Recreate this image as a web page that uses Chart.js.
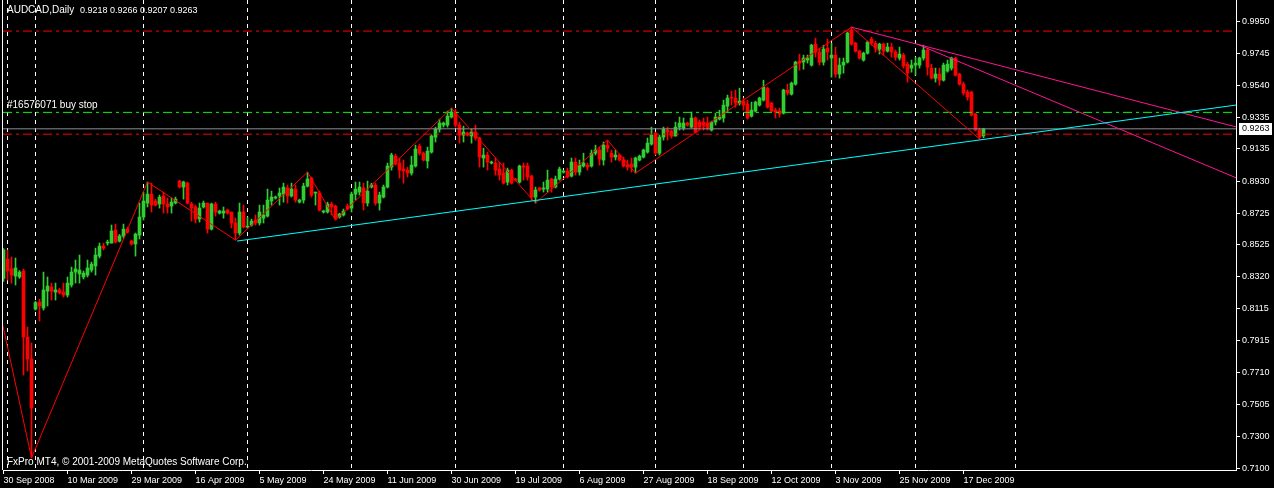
<!DOCTYPE html>
<html>
<head>
<meta charset="utf-8">
<title>AUDCAD,Daily</title>
<script src="https://cdn.jsdelivr.net/npm/chart.js@4.4.1/dist/chart.umd.min.js"></script>
<style>
  html, body { margin: 0; padding: 0; background: #000; }
  canvas { display: block; }
</style>
</head>
<body>
<canvas id="chart" width="1274" height="488"></canvas>
<script>
const OPEN = [
  0.8310, 0.8433, 0.8370, 0.8325, 0.8319, 0.8357, 0.7936, 0.7796, 0.8114, 0.8159,
  0.8121, 0.8229, 0.8255, 0.8223, 0.8236, 0.8223, 0.8204, 0.8268, 0.8350, 0.8338,
  0.8319, 0.8331, 0.8363, 0.8389, 0.8452, 0.8516, 0.8535, 0.8535, 0.8618, 0.8548,
  0.8580, 0.8624, 0.8548, 0.8529, 0.8586, 0.8701, 0.8790, 0.8847, 0.8803, 0.8784,
  0.8835, 0.8784, 0.8771, 0.8790, 0.8930, 0.8892, 0.8917, 0.8784, 0.8765, 0.8688,
  0.8765, 0.8790, 0.8624, 0.8784, 0.8726, 0.8726, 0.8745, 0.8733, 0.8663, 0.8599,
  0.8733, 0.8637, 0.8650, 0.8682, 0.8663, 0.8694, 0.8707, 0.8803, 0.8822, 0.8835,
  0.8847, 0.8886, 0.8835, 0.8879, 0.8796, 0.8809, 0.8898, 0.8949, 0.8854, 0.8854,
  0.8733, 0.8733, 0.8784, 0.8771, 0.8701, 0.8714, 0.8771, 0.8758, 0.8847, 0.8860,
  0.8886, 0.8790, 0.8892, 0.8905, 0.8790, 0.8828, 0.8892, 0.9019, 0.9089, 0.9045,
  0.9007, 0.9000, 0.8981, 0.9026, 0.9153, 0.9108, 0.9058, 0.9115, 0.9210, 0.9261,
  0.9287, 0.9287, 0.9338, 0.9370, 0.9287, 0.9223, 0.9236, 0.9217, 0.9242, 0.9204,
  0.9077, 0.9096, 0.9045, 0.9045, 0.9007, 0.8981, 0.8924, 0.9000, 0.8943, 0.8924,
  0.9026, 0.9026, 0.8962, 0.8828, 0.8886, 0.8879, 0.8879, 0.8943, 0.8892, 0.8943,
  0.8987, 0.8994, 0.8962, 0.9051, 0.8987, 0.9026, 0.9032, 0.9026, 0.9108, 0.9128,
  0.9064, 0.9159, 0.9108, 0.9083, 0.9096, 0.9064, 0.9032, 0.9039, 0.9019, 0.9064,
  0.9083, 0.9115, 0.9166, 0.9236, 0.9108, 0.9210, 0.9255, 0.9249, 0.9217, 0.9274,
  0.9268, 0.9300, 0.9274, 0.9332, 0.9306, 0.9306, 0.9300, 0.9255, 0.9306, 0.9325,
  0.9332, 0.9408, 0.9465, 0.9459, 0.9427, 0.9440, 0.9421, 0.9344, 0.9376, 0.9414,
  0.9446, 0.9522, 0.9427, 0.9382, 0.9376, 0.9363, 0.9510, 0.9484, 0.9548, 0.9694,
  0.9688, 0.9701, 0.9669, 0.9803, 0.9752, 0.9688, 0.9777, 0.9714, 0.9733, 0.9612,
  0.9669, 0.9688, 0.9892, 0.9809, 0.9758, 0.9701, 0.9745, 0.9835, 0.9809, 0.9771,
  0.9803, 0.9758, 0.9784, 0.9752, 0.9714, 0.9733, 0.9675, 0.9650, 0.9669, 0.9669,
  0.9714, 0.9765, 0.9650, 0.9586, 0.9612, 0.9573, 0.9631, 0.9650, 0.9714, 0.9612,
  0.9548, 0.9497, 0.9497, 0.9357, 0.9255, 0.9218
];
const HIGH = [
  0.8500, 0.8491, 0.8446, 0.8440, 0.8360, 0.8370, 0.8000, 0.7898, 0.8165, 0.8178,
  0.8350, 0.8319, 0.8280, 0.8280, 0.8248, 0.8280, 0.8319, 0.8382, 0.8427, 0.8459,
  0.8357, 0.8427, 0.8414, 0.8503, 0.8535, 0.8535, 0.8554, 0.8650, 0.8656, 0.8590,
  0.8656, 0.8637, 0.8554, 0.8599, 0.8790, 0.8860, 0.8924, 0.8917, 0.8815, 0.8841,
  0.8860, 0.8822, 0.8822, 0.8828, 0.8936, 0.8930, 0.8924, 0.8796, 0.8777, 0.8790,
  0.8803, 0.8790, 0.8790, 0.8796, 0.8745, 0.8765, 0.8752, 0.8733, 0.8694, 0.8790,
  0.8777, 0.8701, 0.8688, 0.8714, 0.8777, 0.8777, 0.8879, 0.8866, 0.8835, 0.8886,
  0.8917, 0.8905, 0.8917, 0.8905, 0.8815, 0.8917, 0.8987, 0.8956, 0.8860, 0.8866,
  0.8745, 0.8796, 0.8796, 0.8777, 0.8726, 0.8752, 0.8784, 0.8860, 0.8924, 0.8924,
  0.8917, 0.8930, 0.8917, 0.8917, 0.8860, 0.8905, 0.9045, 0.9108, 0.9102, 0.9077,
  0.9064, 0.9019, 0.9089, 0.9159, 0.9166, 0.9115, 0.9147, 0.9223, 0.9274, 0.9325,
  0.9306, 0.9376, 0.9395, 0.9389, 0.9306, 0.9280, 0.9242, 0.9261, 0.9287, 0.9210,
  0.9140, 0.9115, 0.9058, 0.9077, 0.9051, 0.9045, 0.9013, 0.9007, 0.8949, 0.9032,
  0.9045, 0.9045, 0.8968, 0.8892, 0.8892, 0.8924, 0.9000, 0.8949, 0.8962, 0.9019,
  0.9000, 0.9013, 0.9077, 0.9077, 0.9064, 0.9108, 0.9045, 0.9128, 0.9159, 0.9147,
  0.9179, 0.9191, 0.9128, 0.9128, 0.9102, 0.9083, 0.9064, 0.9077, 0.9083, 0.9096,
  0.9134, 0.9204, 0.9274, 0.9242, 0.9223, 0.9274, 0.9274, 0.9255, 0.9306, 0.9338,
  0.9332, 0.9306, 0.9370, 0.9338, 0.9319, 0.9332, 0.9338, 0.9312, 0.9363, 0.9382,
  0.9446, 0.9478, 0.9503, 0.9510, 0.9522, 0.9459, 0.9446, 0.9433, 0.9440, 0.9465,
  0.9573, 0.9529, 0.9433, 0.9395, 0.9395, 0.9516, 0.9548, 0.9561, 0.9694, 0.9739,
  0.9733, 0.9733, 0.9802, 0.9841, 0.9777, 0.9796, 0.9835, 0.9809, 0.9784, 0.9714,
  0.9714, 0.9879, 0.9911, 0.9815, 0.9764, 0.9752, 0.9822, 0.9847, 0.9822, 0.9809,
  0.9809, 0.9809, 0.9809, 0.9765, 0.9784, 0.9745, 0.9688, 0.9701, 0.9720, 0.9720,
  0.9796, 0.9777, 0.9675, 0.9650, 0.9650, 0.9682, 0.9701, 0.9720, 0.9720, 0.9618,
  0.9561, 0.9510, 0.9503, 0.9363, 0.9268, 0.9266
];
const LOW = [
  0.8290, 0.8299, 0.8280, 0.8268, 0.8310, 0.7694, 0.7720, 0.7166, 0.8108, 0.8038,
  0.8108, 0.8134, 0.8172, 0.8172, 0.8210, 0.8191, 0.8191, 0.8255, 0.8280, 0.8280,
  0.8306, 0.8319, 0.8350, 0.8331, 0.8440, 0.8491, 0.8522, 0.8535, 0.8535, 0.8541,
  0.8567, 0.8599, 0.8522, 0.8452, 0.8561, 0.8682, 0.8765, 0.8733, 0.8771, 0.8758,
  0.8726, 0.8726, 0.8726, 0.8784, 0.8886, 0.8815, 0.8784, 0.8675, 0.8663, 0.8669,
  0.8758, 0.8599, 0.8618, 0.8707, 0.8720, 0.8694, 0.8720, 0.8631, 0.8554, 0.8586,
  0.8631, 0.8631, 0.8643, 0.8650, 0.8650, 0.8663, 0.8701, 0.8777, 0.8815, 0.8777,
  0.8796, 0.8790, 0.8828, 0.8796, 0.8790, 0.8790, 0.8892, 0.8828, 0.8777, 0.8739,
  0.8726, 0.8726, 0.8714, 0.8682, 0.8694, 0.8707, 0.8745, 0.8733, 0.8809, 0.8841,
  0.8745, 0.8771, 0.8886, 0.8777, 0.8745, 0.8822, 0.8886, 0.9000, 0.9032, 0.8949,
  0.8917, 0.8956, 0.8968, 0.9019, 0.9096, 0.9058, 0.9013, 0.9108, 0.9179, 0.9242,
  0.9274, 0.9274, 0.9332, 0.9274, 0.9172, 0.9179, 0.9217, 0.9172, 0.9191, 0.9019,
  0.9019, 0.9000, 0.9039, 0.8968, 0.8936, 0.8911, 0.8905, 0.8911, 0.8930, 0.8917,
  0.8936, 0.8936, 0.8809, 0.8790, 0.8866, 0.8860, 0.8860, 0.8860, 0.8886, 0.8936,
  0.8981, 0.8949, 0.8956, 0.8968, 0.8968, 0.9019, 0.9000, 0.9019, 0.9096, 0.9032,
  0.9032, 0.9115, 0.9051, 0.9064, 0.9058, 0.9019, 0.9000, 0.8987, 0.8981, 0.9058,
  0.9077, 0.9108, 0.9159, 0.9096, 0.9096, 0.9191, 0.9191, 0.9204, 0.9217, 0.9255,
  0.9255, 0.9280, 0.9268, 0.9236, 0.9255, 0.9255, 0.9255, 0.9249, 0.9287, 0.9319,
  0.9306, 0.9370, 0.9414, 0.9401, 0.9414, 0.9382, 0.9325, 0.9338, 0.9370, 0.9408,
  0.9440, 0.9395, 0.9370, 0.9332, 0.9338, 0.9357, 0.9478, 0.9478, 0.9541, 0.9637,
  0.9643, 0.9682, 0.9663, 0.9720, 0.9669, 0.9669, 0.9701, 0.9592, 0.9592, 0.9586,
  0.9618, 0.9682, 0.9796, 0.9752, 0.9707, 0.9694, 0.9739, 0.9796, 0.9752, 0.9739,
  0.9733, 0.9752, 0.9720, 0.9701, 0.9701, 0.9650, 0.9561, 0.9624, 0.9605, 0.9650,
  0.9701, 0.9605, 0.9580, 0.9561, 0.9541, 0.9567, 0.9624, 0.9637, 0.9599, 0.9541,
  0.9478, 0.9446, 0.9344, 0.9249, 0.9198, 0.9207
];
const CLOSE = [
  0.8491, 0.8357, 0.8331, 0.8376, 0.8350, 0.7936, 0.7796, 0.7484, 0.8156, 0.8134,
  0.8236, 0.8261, 0.8229, 0.8236, 0.8217, 0.8204, 0.8280, 0.8350, 0.8370, 0.8363,
  0.8344, 0.8376, 0.8401, 0.8459, 0.8516, 0.8503, 0.8541, 0.8612, 0.8541, 0.8580,
  0.8624, 0.8605, 0.8529, 0.8592, 0.8701, 0.8803, 0.8847, 0.8777, 0.8777, 0.8828,
  0.8784, 0.8765, 0.8796, 0.8815, 0.8892, 0.8924, 0.8790, 0.8758, 0.8688, 0.8758,
  0.8790, 0.8624, 0.8784, 0.8733, 0.8739, 0.8739, 0.8726, 0.8663, 0.8599, 0.8733,
  0.8637, 0.8643, 0.8675, 0.8663, 0.8733, 0.8714, 0.8809, 0.8828, 0.8828, 0.8854,
  0.8892, 0.8835, 0.8879, 0.8809, 0.8809, 0.8898, 0.8943, 0.8841, 0.8860, 0.8745,
  0.8739, 0.8784, 0.8765, 0.8694, 0.8720, 0.8739, 0.8752, 0.8847, 0.8879, 0.8892,
  0.8790, 0.8866, 0.8905, 0.8790, 0.8841, 0.8892, 0.9026, 0.9096, 0.9039, 0.9000,
  0.8994, 0.8981, 0.9032, 0.9134, 0.9108, 0.9064, 0.9121, 0.9217, 0.9261, 0.9300,
  0.9300, 0.9344, 0.9370, 0.9287, 0.9223, 0.9242, 0.9223, 0.9242, 0.9204, 0.9083,
  0.9096, 0.9051, 0.9051, 0.9000, 0.8968, 0.8917, 0.9000, 0.8917, 0.8936, 0.9026,
  0.9019, 0.8956, 0.8828, 0.8873, 0.8873, 0.8886, 0.8936, 0.8892, 0.8943, 0.9007,
  0.8994, 0.8956, 0.9051, 0.8987, 0.9032, 0.9045, 0.9019, 0.9108, 0.9128, 0.9070,
  0.9159, 0.9140, 0.9083, 0.9096, 0.9064, 0.9026, 0.9019, 0.9019, 0.9077, 0.9089,
  0.9128, 0.9172, 0.9223, 0.9108, 0.9210, 0.9261, 0.9242, 0.9217, 0.9274, 0.9300,
  0.9300, 0.9287, 0.9332, 0.9242, 0.9274, 0.9287, 0.9268, 0.9306, 0.9338, 0.9338,
  0.9414, 0.9459, 0.9459, 0.9427, 0.9440, 0.9414, 0.9332, 0.9382, 0.9433, 0.9459,
  0.9529, 0.9401, 0.9376, 0.9370, 0.9357, 0.9510, 0.9491, 0.9554, 0.9688, 0.9682,
  0.9714, 0.9714, 0.9796, 0.9752, 0.9688, 0.9771, 0.9752, 0.9733, 0.9612, 0.9669,
  0.9688, 0.9873, 0.9803, 0.9758, 0.9714, 0.9745, 0.9815, 0.9809, 0.9777, 0.9803,
  0.9758, 0.9784, 0.9752, 0.9720, 0.9739, 0.9663, 0.9618, 0.9669, 0.9682, 0.9714,
  0.9765, 0.9656, 0.9586, 0.9612, 0.9573, 0.9669, 0.9675, 0.9714, 0.9605, 0.9548,
  0.9491, 0.9465, 0.9350, 0.9255, 0.9210, 0.9263
];

const PRICE_TICKS = ['0.7100', '0.7300', '0.7505', '0.7710', '0.7915', '0.8115', '0.8320', '0.8525',
  '0.8725', '0.8930', '0.9135', '0.9335', '0.9540', '0.9745', '0.9950'];
const DATE_TICK_BARS = [0, 16, 32, 48, 64, 80, 96, 112, 128, 144, 160, 176, 192, 208, 224, 240];
const DATE_TICK_LABELS = ['30 Sep 2008', '10 Mar 2009', '29 Mar 2009', '16 Apr 2009', '5 May 2009',
  '24 May 2009', '11 Jun 2009', '30 Jun 2009', '19 Jul 2009', '6 Aug 2009', '27 Aug 2009',
  '18 Sep 2009', '12 Oct 2009', '3 Nov 2009', '25 Nov 2009', '17 Dec 2009'];
const MONTH_START_BARS = [1, 8, 35, 61, 87, 113, 140, 163, 185, 207, 228, 253];

const ZIGZAG_BARS = [-5, 7, 36, 58, 76, 83, 112, 133, 151, 158, 212, 244];
const ZIGZAG_PRICES = [0.8580, 0.7166, 0.8924, 0.8554, 0.8987, 0.8682, 0.9395, 0.8790, 0.9191, 0.8981, 0.9911, 0.9198];

const CYAN_TREND = [[58.4, 0.8548], [310, 0.9421]];
const PINK_TREND_UPPER = [[212, 0.9911], [310, 0.9263]];
const PINK_TREND_LOWER = [[228.4, 0.9803], [310, 0.8931]];

const TOP_LEVEL = 0.9886;
const BUY_STOP_LEVEL = 0.9368;
const BOTTOM_LEVEL = 0.9229;

const X_MIN = -0.125, X_MAX = 308.125;
const Y_MIN = 0.7089, Y_MAX = 1.0084;

const BULL = '#32cd32';
const BEAR = '#ff0000';
const FONT = "'Liberation Sans', Arial, sans-serif";
const DASH_DOT = [9, 4, 3, 4];

Chart.defaults.font.family = FONT;

const lastIdx = CLOSE.length - 1;
const candleColor = ctx => CLOSE[ctx.dataIndex] >= OPEN[ctx.dataIndex] ? BULL : BEAR;
const toPoints = pairs => pairs.map(p => ({ x: p[0], y: p[1] }));

function levelLine(price, color, dash, order) {
  return {
    type: 'line',
    data: [{ x: X_MIN, y: price }, { x: X_MAX, y: price }],
    borderColor: color,
    borderWidth: 1,
    borderDash: dash,
    pointRadius: 0,
    order: order
  };
}

function trendLine(points, color) {
  return {
    type: 'line',
    data: toPoints(points),
    borderColor: color,
    borderWidth: 1,
    pointRadius: 0,
    order: 1
  };
}

const mt4Overlay = {
  id: 'mt4Overlay',
  beforeDatasetsDraw(chart) {
    const { ctx, chartArea: a, scales: { x } } = chart;
    ctx.save();
    ctx.strokeStyle = '#ffffff';
    ctx.lineWidth = 1;
    ctx.setLineDash([4, 4]);
    MONTH_START_BARS.forEach(b => {
      const px = Math.floor(x.getPixelForValue(b)) + 0.5;
      if (px < a.left || px > a.right) return;
      ctx.beginPath();
      ctx.moveTo(px, a.top);
      ctx.lineTo(px, a.bottom);
      ctx.stroke();
    });
    ctx.restore();
  },
  afterDraw(chart) {
    const { ctx, chartArea: a, scales: { y } } = chart;
    ctx.save();
    // left frame
    ctx.strokeStyle = '#ffffff';
    ctx.lineWidth = 1;
    ctx.beginPath();
    ctx.moveTo(a.left - 0.5, a.top);
    ctx.lineTo(a.left - 0.5, a.bottom);
    ctx.stroke();

    ctx.fillStyle = '#ffffff';
    ctx.textBaseline = 'middle';
    ctx.textAlign = 'left';
    ctx.font = '10px ' + FONT;
    ctx.fillText('AUDCAD,Daily', 7, 10.5);
    ctx.font = '9px ' + FONT;
    ctx.fillText([OPEN[lastIdx], HIGH[lastIdx], LOW[lastIdx], CLOSE[lastIdx]].map(v => v.toFixed(4)).join(' '), 80, 10.5);

    ctx.font = '10px ' + FONT;
    ctx.fillText('#16576071 buy stop', 7, y.getPixelForValue(BUY_STOP_LEVEL) - 7);

    ctx.font = '10px ' + FONT;
    ctx.fillText('FxPro MT4, \u00a9 2001-2009 MetaQuotes Software Corp.', 7, 462);

    // current price box
    const py = y.getPixelForValue(CLOSE[lastIdx]);
    ctx.fillStyle = '#ffffff';
    ctx.fillRect(a.right + 3, Math.round(py) - 6, 33, 12);
    ctx.fillStyle = '#000000';
    ctx.font = '9px ' + FONT;
    ctx.fillText(CLOSE[lastIdx].toFixed(4), a.right + 6, py);
    ctx.restore();
  }
};

const ctx = document.getElementById('chart').getContext('2d');
const chart = new Chart(ctx, {
  type: 'bar',
  data: {
    datasets: [
      {
        label: 'wick',
        data: OPEN.map((o, i) => ({ x: i, y: [LOW[i], HIGH[i]] })),
        backgroundColor: candleColor,
        barThickness: 1,
        maxBarThickness: 1,
        minBarLength: 1,
        grouped: false,
        order: 10
      },
      {
        label: 'body',
        data: OPEN.map((o, i) => ({ x: i, y: [o, CLOSE[i]] })),
        backgroundColor: candleColor,
        barThickness: 3,
        maxBarThickness: 3,
        minBarLength: 1,
        grouped: false,
        order: 9
      },
      levelLine(CLOSE[lastIdx], '#8c8c94', [], 5),
      levelLine(TOP_LEVEL, '#ff0000', DASH_DOT, 4),
      levelLine(BUY_STOP_LEVEL, '#00ff00', DASH_DOT, 4),
      levelLine(BOTTOM_LEVEL, '#ff0000', DASH_DOT, 4),
      {
        type: 'line',
        label: 'zigzag',
        data: ZIGZAG_BARS.map((b, i) => ({ x: b, y: ZIGZAG_PRICES[i] })),
        borderColor: '#ff0000',
        borderWidth: 1,
        pointRadius: 0,
        order: 3
      },
      trendLine(CYAN_TREND, '#00ffff'),
      trendLine(PINK_TREND_UPPER, '#ff1493'),
      trendLine(PINK_TREND_LOWER, '#ff1493')
    ]
  },
  options: {
    responsive: false,
    animation: false,
    events: [],
    devicePixelRatio: 1,
    layout: { padding: { left: 3, top: 0, right: 0, bottom: 0 }, autoPadding: false },
    plugins: { legend: { display: false }, tooltip: { enabled: false } },
    scales: {
      x: {
        type: 'linear',
        min: X_MIN,
        max: X_MAX,
        offset: false,
        afterBuildTicks: s => { s.ticks = DATE_TICK_BARS.map(v => ({ value: v })); },
        afterFit: s => { s.height = 18; s.paddingLeft = 0; s.paddingRight = 0; },
        ticks: {
          color: '#ffffff',
          font: { size: 9 },
          align: 'start',
          maxRotation: 0,
          autoSkip: false,
          padding: 1,
          callback: (v, i) => DATE_TICK_LABELS[i]
        },
        grid: { offset: false, drawOnChartArea: false, drawTicks: true, tickLength: 4, color: '#ffffff' },
        border: { display: true, color: '#ffffff' }
      },
      y: {
        position: 'right',
        min: Y_MIN,
        max: Y_MAX,
        beginAtZero: false,
        afterBuildTicks: s => { s.ticks = PRICE_TICKS.map(v => ({ value: parseFloat(v) })); },
        afterFit: s => { s.width = 38; s.paddingTop = 0; s.paddingBottom = 0; },
        ticks: {
          color: '#ffffff',
          font: { size: 9 },
          autoSkip: false,
          padding: 2,
          callback: (v, i) => PRICE_TICKS[i]
        },
        grid: { drawOnChartArea: false, drawTicks: true, tickLength: 4, color: '#ffffff' },
        border: { display: true, color: '#ffffff' }
      }
    }
  },
  plugins: [mt4Overlay]
});
</script>
</body>
</html>
